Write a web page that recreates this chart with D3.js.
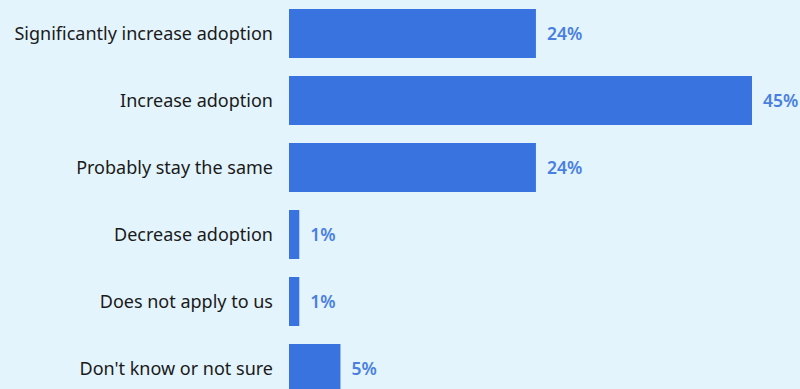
<!DOCTYPE html>
<html>
<head>
<meta charset="utf-8">
<script src="https://cdn.jsdelivr.net/npm/d3@7"></script>
<style>
  html, body { margin: 0; padding: 0; background: #e3f4fc; }
  svg { display: block; }
</style>
</head>
<body>
<svg id="chart" width="800" height="389"></svg>
<script>
const categories = [
  "Significantly increase adoption",
  "Increase adoption",
  "Probably stay the same",
  "Decrease adoption",
  "Does not apply to us",
  "Don't know or not sure"
];
const values = [24, 45, 24, 1, 1, 5];

const svg = d3.select("#chart");
const font = "'Noto Sans', 'Open Sans', sans-serif";

const x = d3.scaleLinear().domain([0, 45]).range([289, 752]);
const y = d3.scaleBand()
  .domain(categories)
  .range([9, 393])
  .paddingInner(18 / 67)
  .paddingOuter(0);

const rows = svg.selectAll("g.row")
  .data(categories.map((c, i) => ({ c, v: values[i] })))
  .join("g")
  .attr("class", "row");

rows.append("rect")
  .attr("x", x(0))
  .attr("y", d => y(d.c))
  .attr("width", d => x(d.v) - x(0))
  .attr("height", y.bandwidth())
  .attr("fill", "#3873df");

rows.append("text")
  .attr("x", x(0) - 16)
  .attr("y", d => y(d.c) + y.bandwidth() / 2)
  .attr("dy", "0.35em")
  .attr("text-anchor", "end")
  .attr("font-family", font)
  .attr("font-size", 18)
  .attr("fill", "#1a1a1a")
  .text(d => d.c);

rows.append("text")
  .attr("x", d => x(d.v) + 11)
  .attr("y", d => y(d.c) + y.bandwidth() / 2)
  .attr("dy", "0.35em")
  .attr("font-family", font)
  .attr("font-size", 17.5)
  .attr("font-weight", 600)
  .attr("fill", "#4a7fe0")
  .text(d => d.v + "%");
</script>
</body>
</html>
